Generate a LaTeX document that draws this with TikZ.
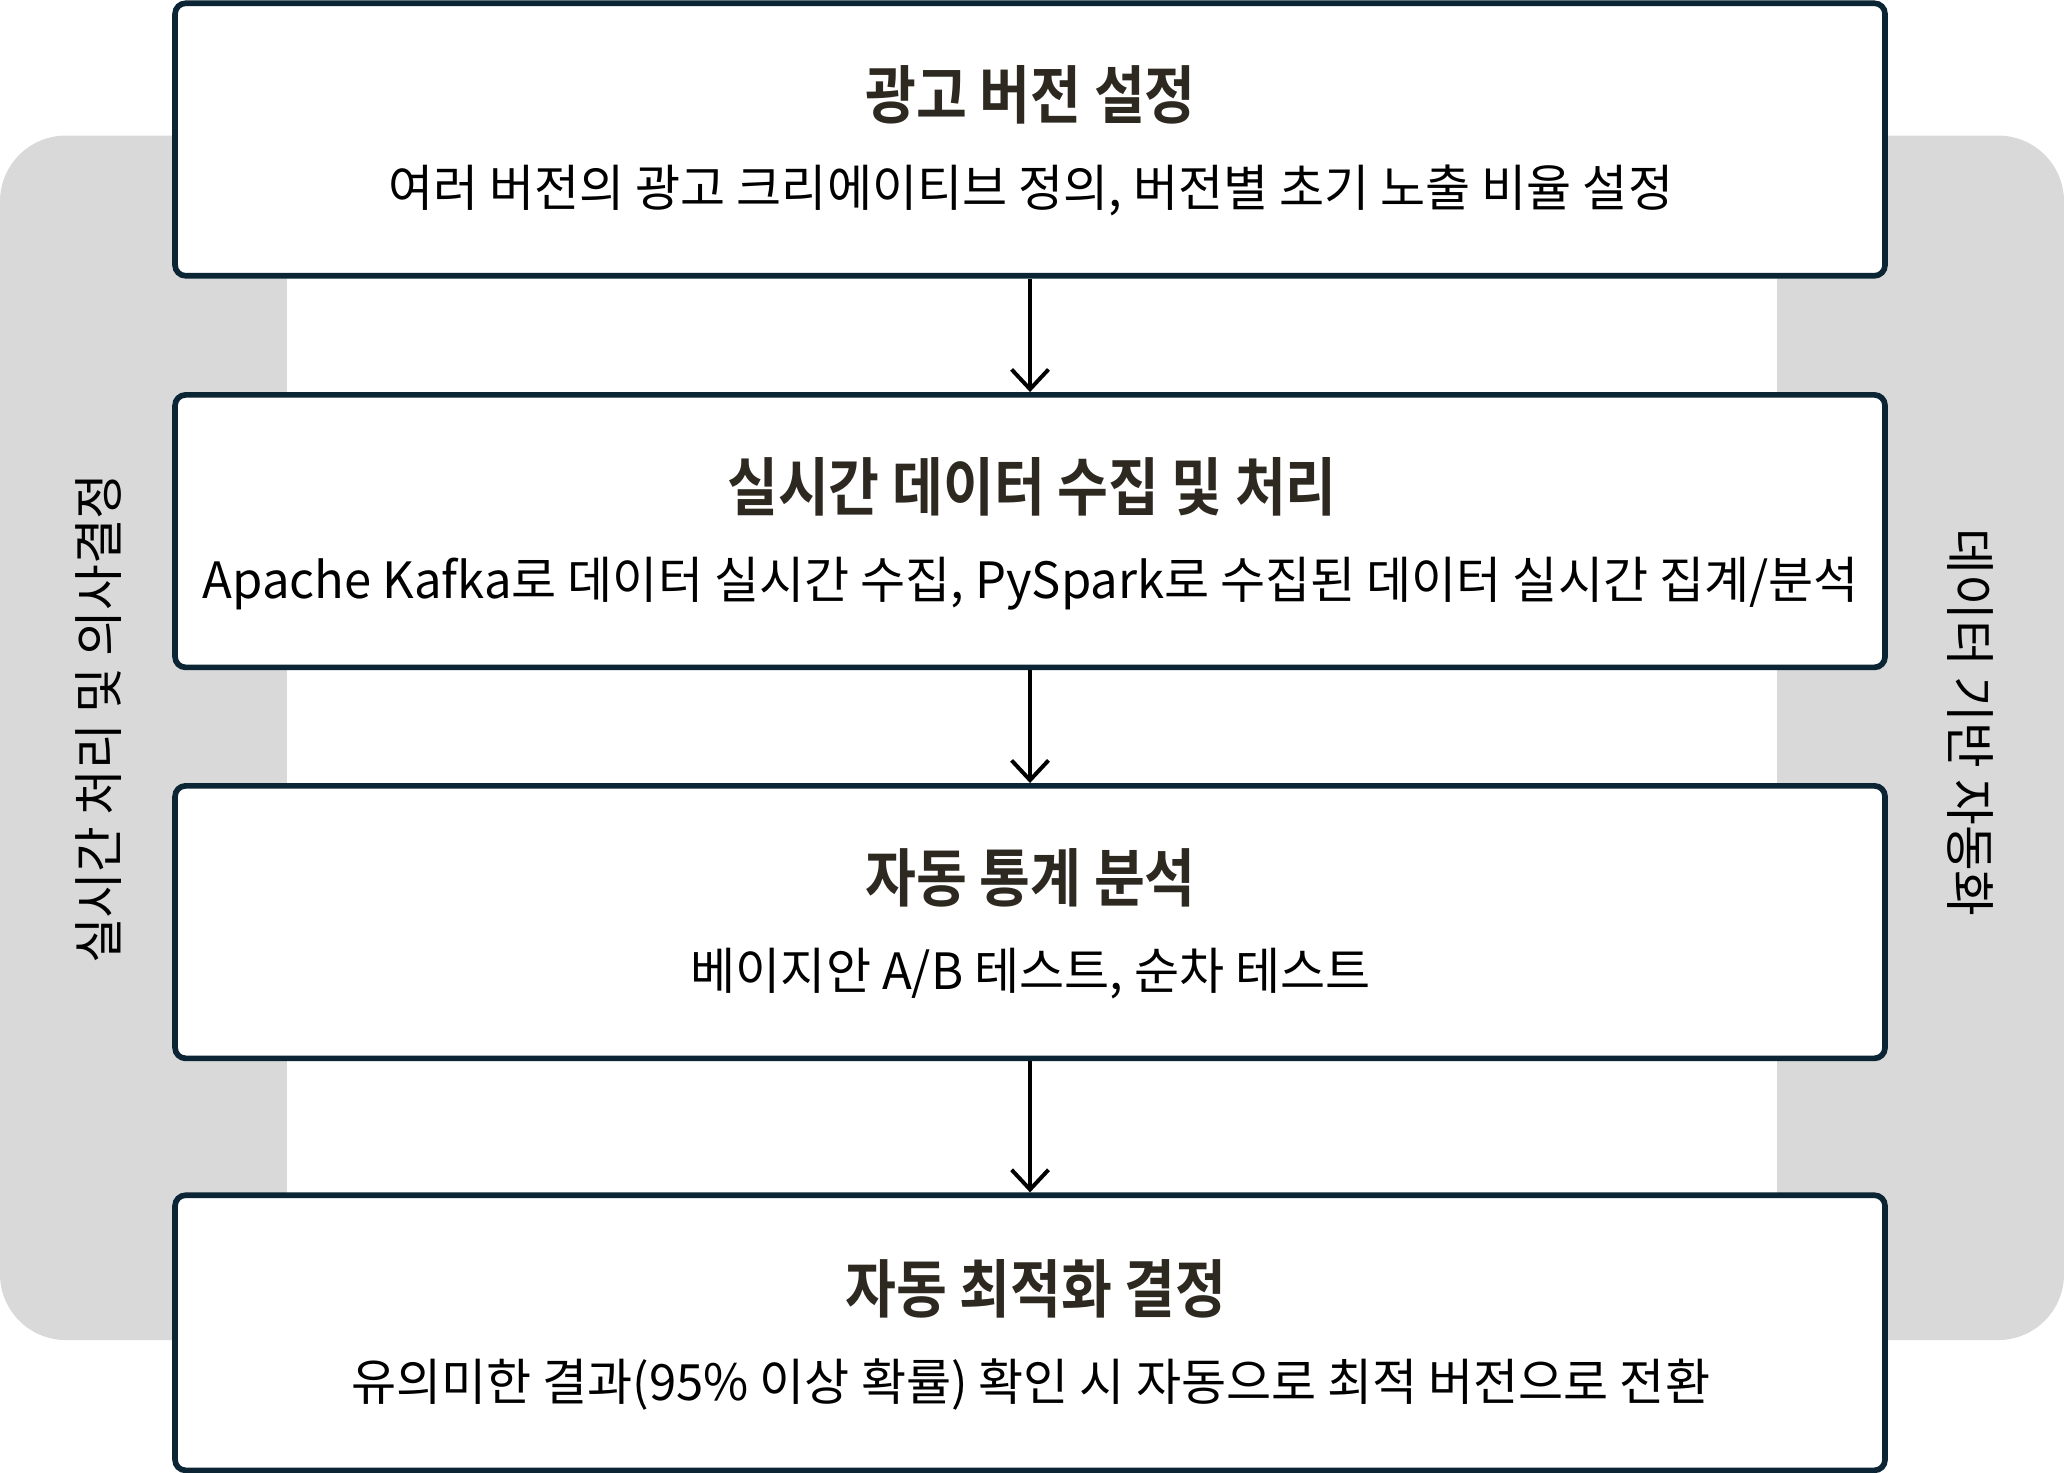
\documentclass[tikz,border=0pt]{standalone}
\usepackage{fontspec}
\usetikzlibrary{arrows.meta}
\setmainfont{Noto Sans CJK KR}
\newfontfamily\ttlfnt[FakeStretch=0.875]{Noto Sans CJK KR Bold}
\newfontfamily\subfnt[FakeStretch=0.98]{Noto Sans CJK KR}
\definecolor{boxcol}{HTML}{0B2535}
\definecolor{panelcol}{HTML}{D9D9D9}
\definecolor{ttlcol}{HTML}{2D2820}
\begin{document}
\begin{tikzpicture}[x=1pt,y=-1pt,
  stepbox/.style={draw=boxcol, line width=4.3pt, rounded corners=8pt, fill=white, minimum width=1299pt, minimum height=207pt, inner sep=0pt},
  ttl/.style={font=\ttlfnt\fontsize{48}{52}\selectfont, text=ttlcol, anchor=base, inner sep=0pt},
  subt/.style={font=\subfnt\fontsize{38}{42}\selectfont, text=black, anchor=base, inner sep=0pt},
  flow/.style={line width=3pt, draw=black, -{Straight Barb[length=15pt,width=28pt]}},
  side/.style={font=\subfnt\fontsize{38.5}{42}\selectfont, text=black, inner sep=0pt}]
\useasboundingbox (0,0) rectangle (1568,1119);
% side panels
\fill[panelcol, rounded corners=50pt] (0,103) rectangle (218,1018);
\fill[panelcol, rounded corners=50pt] (1350,103) rectangle (1568,1018);
\node[side, rotate=90] (L) at (75,546) {실시간 처리 및 의사결정};
\node[side, rotate=-90] (R) at (1497,549) {데이터 기반 자동화};
% boxes
\node[stepbox] (b1) at (782.5,106) {};
\node[stepbox] (b2) at (782.5,403.5) {};
\node[stepbox] (b3) at (782.5,700.5) {};
\node[stepbox, minimum height=209pt] (b4) at (782.5,1012.5) {};
% texts
\node[ttl] (t1) at (783,90) {광고 버전 설정};
\node[subt] (s1) at (783,157) {여러 버전의 광고 크리에이티브 정의, 버전별 초기 노출 비율 설정};
\node[ttl] (t2) at (784,388) {실시간 데이터 수집 및 처리};
\node[subt] (s2) at (783,455) {Apache Kafka로 데이터 실시간 수집, PySpark로 수집된 데이터 실시간 집계/분석};
\node[ttl] (t3) at (783,685) {자동 통계 분석};
\node[subt] (s3) at (783,752) {베이지안 A/B 테스트, 순차 테스트};
\node[ttl] (t4) at (787,997) {자동 최적화 결정};
\node[subt] (s4) at (783,1064) {유의미한 결과(95\% 이상 확률) 확인 시 자동으로 최적 버전으로 전환};
% connectors
\draw[flow] (b1.south) -- (b2.north);
\draw[flow] (b2.south) -- (b3.north);
\draw[flow] (b3.south) -- (b4.north);
\end{tikzpicture}
\end{document}
